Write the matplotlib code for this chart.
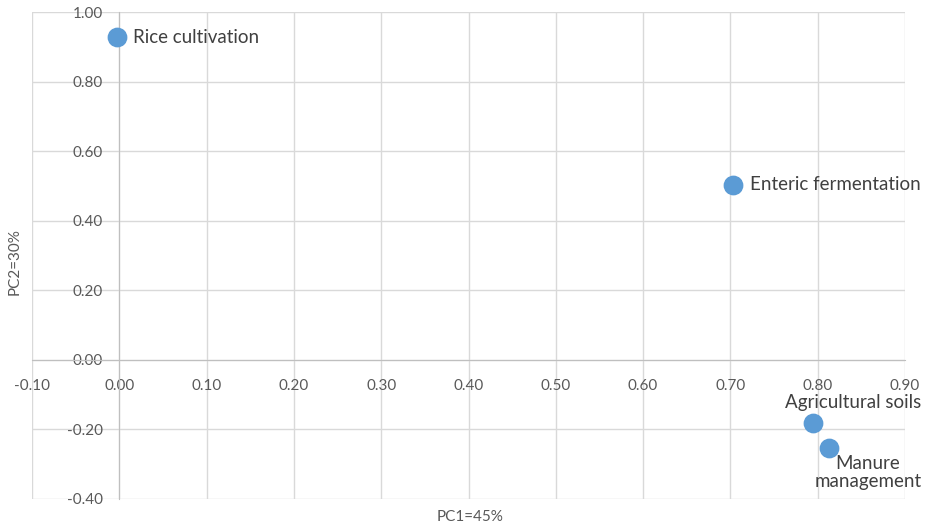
import matplotlib.pyplot as plt
import numpy as np

# PCA loadings
sources = ['Rice cultivation', 'Enteric fermentation', 'Agricultural soils', 'Manure\nmanagement']
pc1 = [-0.003, 0.703, 0.795, 0.813]
pc2 = [0.928, 0.503, -0.182, -0.254]

x_ticks = np.round(np.arange(-0.1, 0.91, 0.1), 2)
y_ticks = np.round(np.arange(-0.4, 1.01, 0.2), 2)

plt.rcParams['font.family'] = ['Lato', 'DejaVu Sans']

fig = plt.figure(figsize=(9.25, 5.27), dpi=100)
ax = fig.add_axes([32/925, 28/527, 873/925, 487/527])

ax.scatter(pc1, pc2, s=175, color='#5B9BD5', zorder=3, clip_on=False)

# label offsets in points (dx, dy, ha, va)
offsets = [(12, 0, 'left', 'center'),
           (12, 0, 'left', 'center'),
           (29, 9, 'center', 'bottom'),
           (28, -5, 'center', 'top')]
for name, x, y, (dx, dy, ha, va) in zip(sources, pc1, pc2, offsets):
    ax.annotate(name, (x, y), xytext=(dx, dy), textcoords='offset points',
                ha=ha, va=va, fontsize=13.5, color='#404040', linespacing=1.05)

ax.set_xlim(-0.1, 0.9)
ax.set_ylim(-0.4, 1.0)
ax.set_xticks(x_ticks)
ax.set_yticks(y_ticks)
ax.set_xticklabels([f'{v:.2f}' for v in x_ticks])
ax.set_yticklabels([f'{v:.2f}' for v in y_ticks])

ax.grid(True, color='#d9d9d9', linewidth=1)
ax.set_axisbelow(True)
for gl in ax.get_xgridlines() + ax.get_ygridlines():
    gl.set_clip_on(False)

ax.spines['top'].set_visible(False)
ax.spines['right'].set_visible(False)
ax.spines['left'].set_position(('data', 0))
ax.spines['bottom'].set_position(('data', 0))
ax.spines['left'].set_color('#bfbfbf')
ax.spines['bottom'].set_color('#bfbfbf')
ax.spines['left'].set_zorder(2)
ax.spines['bottom'].set_zorder(2)

ax.tick_params(axis='both', length=0, labelsize=11, labelcolor='#595959')
ax.tick_params(axis='x', pad=14)
ax.tick_params(axis='y', pad=12)

fig.text(470/925, 1 - 517/527, 'PC1=45%', ha='center', va='center', fontsize=11, color='#595959')
fig.text(15/925, 1 - 262/527, 'PC2=30%', ha='center', va='center', rotation=90, fontsize=11, color='#595959')

fig.savefig('out.png', dpi=100)
